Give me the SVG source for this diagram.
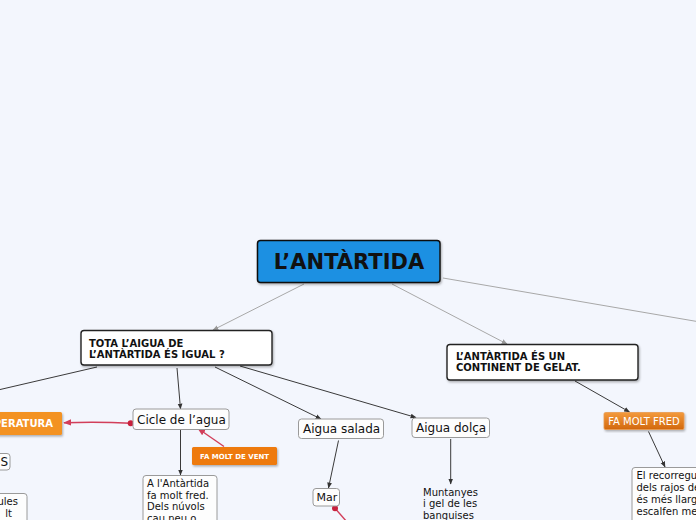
<svg xmlns="http://www.w3.org/2000/svg" width="696" height="520" viewBox="0 0 696 520">
<defs>
<style>
.t{font-family:"DejaVu Sans",Verdana,sans-serif;fill:#111}
.b{font-weight:bold}
.w{fill:#fff}
.box{fill:#fdfdfd;stroke:#9a9a9a;stroke-width:1}
.main{fill:#fff;stroke:#222;stroke-width:1.4}
.c{fill:none;stroke:#3a3a3a;stroke-width:1}
.g{fill:none;stroke:#a8a8a8;stroke-width:1}
.r{fill:none;stroke:#d23e5a;stroke-width:1.4}
</style>
<marker id="a" viewBox="0 0 10 10" refX="9" refY="5" markerWidth="6" markerHeight="6" orient="auto-start-reverse" markerUnits="userSpaceOnUse"><path d="M0,1 L10,5 L0,9 z" fill="#333"/></marker>
<marker id="ag" viewBox="0 0 10 10" refX="9" refY="5" markerWidth="6" markerHeight="6" orient="auto" markerUnits="userSpaceOnUse"><path d="M0,1 L10,5 L0,9 z" fill="#999"/></marker>
<marker id="ar" viewBox="0 0 10 10" refX="9" refY="5" markerWidth="8" markerHeight="8" orient="auto" markerUnits="userSpaceOnUse"><path d="M0,1 L10,5 L0,9 z" fill="#d23e5a"/></marker>
<linearGradient id="og" x1="0" y1="0" x2="0" y2="1"><stop offset="0" stop-color="#f39a3c"/><stop offset="1" stop-color="#d2680e"/></linearGradient>
<filter id="sh" x="-10%" y="-10%" width="120%" height="130%"><feDropShadow dx="1" dy="1.5" stdDeviation="1" flood-color="#000" flood-opacity="0.3"/></filter>
</defs>
<rect width="696" height="520" fill="#f3f6fd"/>
<g id="connectors">
<line class="g" x1="304" y1="284" x2="213" y2="330" marker-end="url(#ag)"/>
<line class="g" x1="392" y1="284" x2="507" y2="344" marker-end="url(#ag)"/>
<line class="g" x1="443" y1="278" x2="700" y2="322"/>
<line class="c" x1="97" y1="367" x2="-2" y2="390"/>
<line class="c" x1="177" y1="368" x2="180.5" y2="409" marker-end="url(#a)"/>
<line class="c" x1="215" y1="367" x2="321" y2="419" marker-end="url(#a)"/>
<line class="c" x1="240" y1="366" x2="416" y2="417.5" marker-end="url(#a)"/>
<line class="c" x1="338.5" y1="440.5" x2="328.5" y2="488" marker-end="url(#a)"/>
<line class="c" x1="450.7" y1="439" x2="450.7" y2="484" marker-end="url(#a)"/>
<line class="c" x1="180.5" y1="430" x2="180.5" y2="475" marker-end="url(#a)"/>
<line class="c" x1="575" y1="381" x2="629.5" y2="412" marker-end="url(#a)"/>
<line class="c" x1="648.5" y1="431.5" x2="665" y2="467" marker-end="url(#a)"/>
<path class="r" d="M130.7,423.3 Q100,421.5 64,422.7" marker-end="url(#ar)"/>
<circle cx="130.7" cy="423.3" r="3" fill="#c8203c"/>
<line class="r" x1="224" y1="446.5" x2="198" y2="428.5" marker-end="url(#ar)"/>
<line class="r" x1="335" y1="508.3" x2="347" y2="522"/>
<circle cx="335" cy="508.3" r="3" fill="#c8203c"/>
</g>
<g id="root">
<rect x="257.5" y="240.5" width="182.5" height="42" rx="3" fill="#1a90e2" stroke="#111" stroke-width="1.5" filter="url(#sh)"/>
<text class="t b" x="349" y="269" font-size="21" text-anchor="middle">L’ANTÀRTIDA</text>
</g>
<g id="n-tota">
<rect class="main" x="81" y="330.5" width="191" height="34.5" rx="3" filter="url(#sh)"/>
<text class="t b" x="89" y="346.5" font-size="10">TOTA L’AIGUA DE</text>
<text class="t b" x="89" y="358" font-size="10">L’ANTÀRTIDA ÉS IGUAL ?</text>
</g>
<g id="n-gelat">
<rect class="main" x="447" y="344.5" width="191" height="35.5" rx="3" filter="url(#sh)"/>
<text class="t b" x="456" y="359.5" font-size="10">L’ANTÀRTIDA ÉS UN</text>
<text class="t b" x="456" y="371.3" font-size="10">CONTINENT DE GELAT.</text>
</g>
<g id="n-cicle">
<rect class="box" x="133" y="409" width="96" height="20.5" rx="3"/>
<text class="t" x="137" y="424" font-size="12">Cicle de l’agua</text>
</g>
<g id="n-salada">
<rect class="box" x="298.5" y="419" width="85" height="19.5" rx="3"/>
<text class="t" x="303" y="433" font-size="12">Aigua salada</text>
</g>
<g id="n-dolca">
<rect class="box" x="412" y="418" width="77.5" height="19.5" rx="3"/>
<text class="t" x="416" y="432" font-size="12">Aigua dolça</text>
</g>
<g id="n-mar">
<rect class="box" x="313" y="488.5" width="26.5" height="17.5" rx="3"/>
<text class="t" x="316.5" y="500.7" font-size="11">Mar</text>
</g>
<g id="n-muntanyes">
<text class="t" x="423" y="495.5" font-size="10">Muntanyes</text>
<text class="t" x="423" y="507" font-size="10">i gel de les</text>
<text class="t" x="423" y="518.5" font-size="10">banguises</text>
</g>
<g id="n-fred-text">
<rect class="box" x="143" y="475.5" width="74" height="60" rx="3"/>
<text class="t" x="147" y="487" font-size="10">A l'Antàrtida</text>
<text class="t" x="147" y="498.5" font-size="10">fa molt fred.</text>
<text class="t" x="147" y="510" font-size="10">Dels núvols</text>
<text class="t" x="147" y="521.5" font-size="10">cau neu o</text>
</g>
<g id="n-vent">
<rect x="192" y="447" width="85" height="18" rx="1.5" fill="#ee7a10" filter="url(#sh)"/>
<text class="t b w" x="234.5" y="458.8" font-size="7" text-anchor="middle">FA MOLT DE VENT</text>
</g>
<g id="n-temperatura">
<rect x="-40" y="412" width="102" height="23" rx="1.5" fill="#f39224" filter="url(#sh)"/>
<text class="t b w" x="53" y="427" font-size="10" text-anchor="end">TEMPERATURA</text>
</g>
<g id="n-s">
<rect class="box" x="-20" y="453.5" width="30" height="16.5" rx="3"/>
<text class="t" x="8" y="466" font-size="12" text-anchor="end">S</text>
</g>
<g id="n-ules">
<rect class="box" x="-50" y="493.5" width="77" height="40" rx="3"/>
<text class="t" x="-2.5" y="505" font-size="10">ules</text>
<text class="t" x="5.3" y="517" font-size="10">lt</text>
</g>
<g id="n-fa-molt-fred">
<rect x="604" y="412.5" width="80" height="17" rx="1.5" fill="url(#og)" stroke="#e89a50" stroke-width="0.8" filter="url(#sh)"/>
<text class="t w" x="644" y="424.5" font-size="10" text-anchor="middle">FA MOLT FRED</text>
</g>
<g id="n-recorregut">
<rect class="box" x="632" y="467.5" width="90" height="60" rx="3"/>
<text class="t" x="636.5" y="479" font-size="10">El recorregut</text>
<text class="t" x="636.5" y="491" font-size="10">dels rajos de</text>
<text class="t" x="636.5" y="503" font-size="10">és més llarg</text>
<text class="t" x="636.5" y="515" font-size="10">escalfen me</text>
</g>
</svg>
